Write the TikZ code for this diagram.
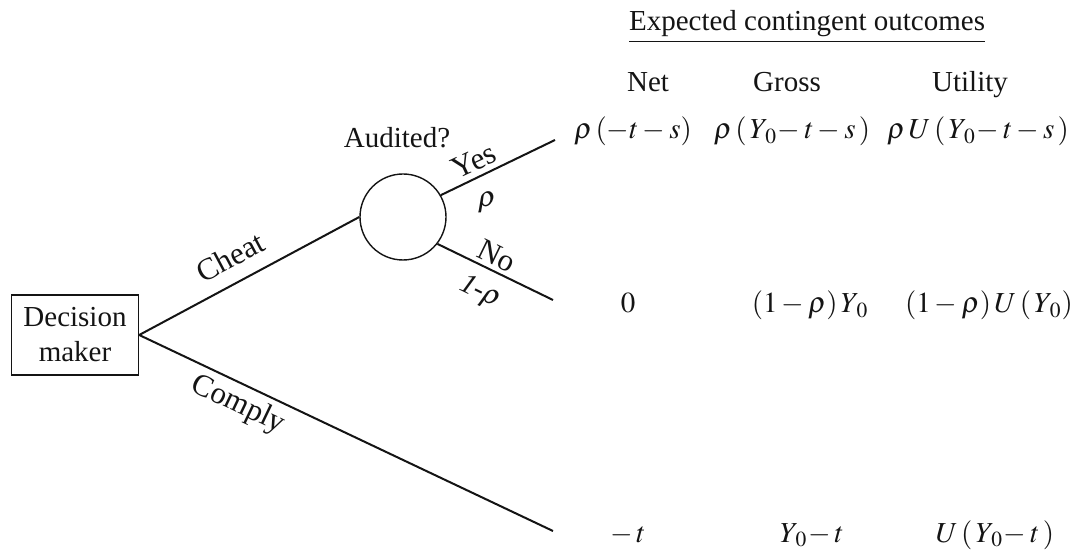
\documentclass[tikz,border=0pt]{standalone}
\usepackage{mathptmx}
\usepackage{fontspec}
\setmainfont{Liberation Serif}
\usepackage{tikz}
\definecolor{primary}{RGB}{20, 20, 20}

\begin{document}
\begin{tikzpicture}[x=0.5pt,y=-0.5pt,
  txt/.style={primary,inner sep=1pt,font=\fontsize{14.5}{17.5}\selectfont},
  brlbl/.style={primary,inner sep=0.5pt,font=\fontsize{15.5}{18}\selectfont},
  edge/.style={primary,line width=1pt}]
\useasboundingbox (0,0) rectangle (1080,550);
% decision tree
\node[txt,draw=primary,line width=0.7pt,align=center,minimum width=63.5pt,minimum height=40pt,inner sep=0pt] (dm) at (75,335) {Decision\\maker};
\node[draw=primary,line width=0.7pt,circle,minimum size=43pt,inner sep=0pt] (aud) at (403,217) {};
\coordinate (yes) at (555,140);
\coordinate (no) at (553,300);
\coordinate (comply) at (553,531);
\draw[edge] (dm.east) -- (aud.west);
\draw[edge] (aud.30) -- (yes);
\draw[edge] (aud.-38) -- (no);
\draw[edge] (dm.east) -- (comply);
\node[txt] (audlbl) at (397,138) {Audited?};
\node[brlbl,rotate=28] (cheatlbl) at (230,257) {Cheat};
\node[brlbl,rotate=-25.6] (complylbl) at (238,405) {Comply};
\node[brlbl,rotate=25] (yeslbl) at (474,161) {Yes};
\node[txt] (plbl) at (487,203) {$\rho$};
\node[brlbl,rotate=-26] (nolbl) at (497,256) {No};
\node[txt,rotate=-26] (qlbl) at (480,293) {\textit{1-}$\rho$};
% outcomes table
\node[txt,anchor=base] (head) at (807,31) {\underline{Expected contingent outcomes}};
\node[txt,anchor=base] (net) at (648,92) {Net};
\node[txt,anchor=base] (gross) at (787,92) {Gross};
\node[txt,anchor=base] (util) at (970,92) {Utility};
\node[txt,anchor=base] (n1) at (633,139) {$\rho\,(-t-s)$};
\node[txt,anchor=base] (g1) at (792,139) {$\rho\,(\,Y_{\,0}\!-t-s\,)$};
\node[txt,anchor=base] (u1) at (978,139) {$\rho\,U\,(\,Y_{\,0}\!-t-s\,)$};
\node[txt,anchor=base] (n2) at (628,313) {$0$};
\node[txt,anchor=base] (g2) at (810,313) {$(1-\rho)\,Y_{\,0}$};
\node[txt,anchor=base] (u2) at (989,313) {$(1-\rho)\,U\,(\,Y_{\,0})$};
\node[txt,anchor=base] (n3) at (628,542) {$-\,t$};
\node[txt,anchor=base] (g3) at (812,542) {$Y_{\,0}\!-t$};
\node[txt,anchor=base] (u3) at (995,542) {$U\,(\,Y_{\,0}\!-t\,)$};
\end{tikzpicture}
\end{document}
